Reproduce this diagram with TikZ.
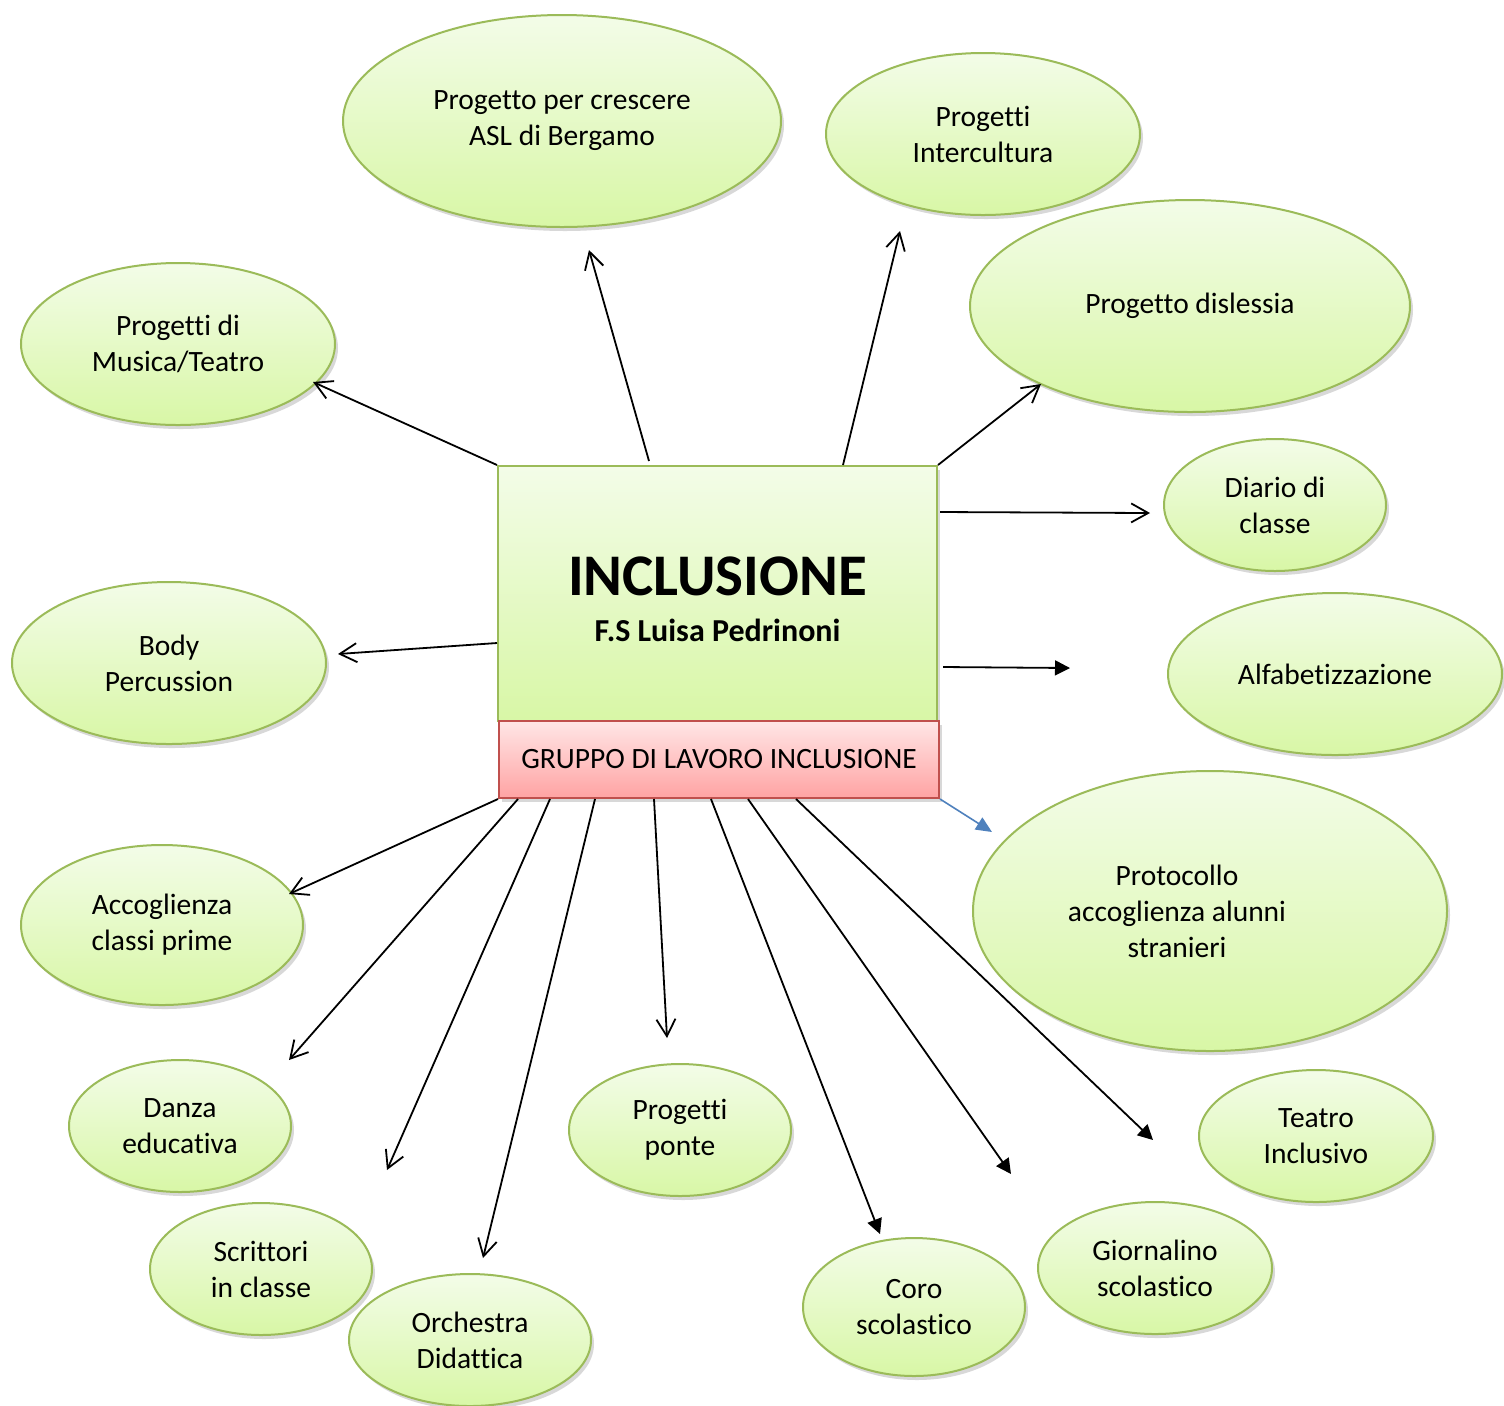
\documentclass[tikz,border=0pt]{standalone}
\usepackage{fontspec}
\setmainfont{Carlito}[Ligatures=NoCommon]
\usetikzlibrary{arrows.meta,shapes.geometric,shadows}
\definecolor{ogreen}{HTML}{9BBB59}
\definecolor{gtop}{HTML}{F3FCE8}
\definecolor{gbot}{HTML}{D8F7A6}
\definecolor{rtop}{HTML}{FFE6E6}
\definecolor{rbot}{HTML}{FFA3A3}
\definecolor{rborder}{HTML}{C0504D}
\definecolor{oblue}{HTML}{4F81BD}
\tikzset{
  basefont/.style={font=\fontsize{14.75}{18}\selectfont},
  softshadow/.style={drop shadow={shadow xshift=1.5pt, shadow yshift=-2pt, opacity=0.25, fill=black!60}},
  bubble/.style={ellipse, draw=ogreen, line width=1pt, top color=gtop, bottom color=gbot,
    inner sep=0pt, align=center, basefont, softshadow},
  mainbox/.style={rectangle, draw=ogreen, line width=1pt, top color=gtop, bottom color=gbot,
    inner sep=0pt, align=center, softshadow},
  grpbox/.style={rectangle, draw=rborder, line width=1pt, top color=rtop, bottom color=rbot,
    inner sep=0pt, align=center, basefont, softshadow},
  openarrow/.style={line width=0.9pt, -{Straight Barb[length=8.5pt, width=9.5pt]}},
  fullarrow/.style={line width=0.9pt, -{Triangle[length=7.5pt, width=7.5pt]}},
  bluearrow/.style={line width=0.8pt, draw=oblue, -{Triangle[length=8pt, width=7pt, fill=oblue]}}
}
\begin{document}
\begin{tikzpicture}[x=0.5pt,y=-0.5pt]
\useasboundingbox (0,0) rectangle (1504,1405);
\fill[white] (0,0) rectangle (1504,1405);

% bubbles
\node[bubble, minimum width=219pt, minimum height=106pt] (cresc) at (562,121) {Progetto per crescere\\ASL di Bergamo};
\node[bubble, minimum width=157pt, minimum height=81pt] (inter) at (983,134) {Progetti\\Intercultura};
\node[bubble, minimum width=220pt, minimum height=106pt] (disl) at (1190,306) {Progetto dislessia};
\node[bubble, minimum width=157pt, minimum height=81pt] (music) at (178,344) {Progetti di\\Musica/Teatro};
\node[bubble, minimum width=111pt, minimum height=66pt] (diario) at (1275,505) {Diario di\\classe};
\node[bubble, minimum width=157pt, minimum height=81pt] (body) at (169,663) {Body\\Percussion};
\node[bubble, minimum width=167pt, minimum height=81pt] (alfa) at (1335,674) {Alfabetizzazione};
\node[bubble, minimum width=237pt, minimum height=140pt] (proto) at (1210,911) {};
\node[basefont, align=center] (prototext) at (1177,911) {Protocollo\\accoglienza alunni\\stranieri};
\node[bubble, minimum width=141pt, minimum height=80pt] (accog) at (162,925) {Accoglienza\\classi prime};
\node[bubble, minimum width=111pt, minimum height=66pt] (danza) at (180,1126) {Danza\\educativa};
\node[bubble, minimum width=111pt, minimum height=66pt] (ponte) at (680,1130) {Progetti\\ponte};
\node[bubble, minimum width=117pt, minimum height=66pt] (teatro) at (1316,1136) {Teatro\\Inclusivo};
\node[bubble, minimum width=111pt, minimum height=66pt] (scritt) at (261,1269) {Scrittori\\in classe};
\node[bubble, minimum width=117pt, minimum height=66pt] (giorn) at (1155,1268) {Giornalino\\scolastico};
\node[bubble, minimum width=111pt, minimum height=69pt] (coro) at (914,1307) {Coro\\scolastico};
\node[bubble, minimum width=121pt, minimum height=66pt] (orch) at (470,1340) {Orchestra\\Didattica};

% central boxes
\node[mainbox, minimum width=219.5pt, minimum height=127.5pt] (main) at (717.5,593.5) {};
\node[font=\fontsize{29.5}{34}\selectfont\bfseries] (title) at (717.5,576) {INCLUSIONE};
\node[font=\fontsize{16}{19}\selectfont\bfseries] (fs) at (717.5,630) {F.S Luisa Pedrinoni};
\node[grpbox, minimum width=220pt, minimum height=38.5pt] (grp) at (719,759.5) {GRUPPO DI LAVORO INCLUSIONE};

% free arrow ends
\coordinate (eMus) at (313,382);
\coordinate (eCre) at (589,250);
\coordinate (eInt) at (900,231);
\coordinate (eDis) at (1041,384);
\coordinate (eDia) at (1150,513);
\coordinate (eAlf) at (1070,668);
\coordinate (eBod) at (338,654);
\coordinate (ePro) at (992,832);
\coordinate (eAcc) at (289,894);
\coordinate (eDan) at (289,1060);
\coordinate (eScr) at (387,1170);
\coordinate (eOrc) at (483,1258);
\coordinate (ePon) at (667,1038);
\coordinate (eCor) at (880,1234);
\coordinate (eGio) at (1011,1174);
\coordinate (eTea) at (1153,1140);

% arrows from main box
\draw[openarrow] (main.north west) -- (eMus);
\draw[openarrow] ([xshift=76pt,yshift=2pt]main.north west) -- (eCre);
\draw[openarrow] ([xshift=-47.5pt]main.north east) -- (eInt);
\draw[openarrow] (main.north east) -- (eDis);
\draw[openarrow] ([xshift=1pt,yshift=-23.5pt]main.north east) -- (eDia);
\draw[fullarrow] ([xshift=2.5pt,yshift=-101pt]main.north east) -- (eAlf);
\draw[openarrow] ([yshift=-89pt]main.north west) -- (eBod);

% arrows from group box
\draw[bluearrow] (grp.south east) -- (ePro);
\draw[openarrow] (grp.south west) -- (eAcc);
\draw[openarrow] ([xshift=10pt]grp.south west) -- (eDan);
\draw[openarrow] ([xshift=26pt]grp.south west) -- (eScr);
\draw[openarrow] ([xshift=48.5pt]grp.south west) -- (eOrc);
\draw[openarrow] ([xshift=78pt]grp.south west) -- (ePon);
\draw[fullarrow] ([xshift=106.5pt]grp.south west) -- (eCor);
\draw[fullarrow] ([xshift=125pt]grp.south west) -- (eGio);
\draw[fullarrow] ([xshift=149pt]grp.south west) -- (eTea);
\end{tikzpicture}
\end{document}
